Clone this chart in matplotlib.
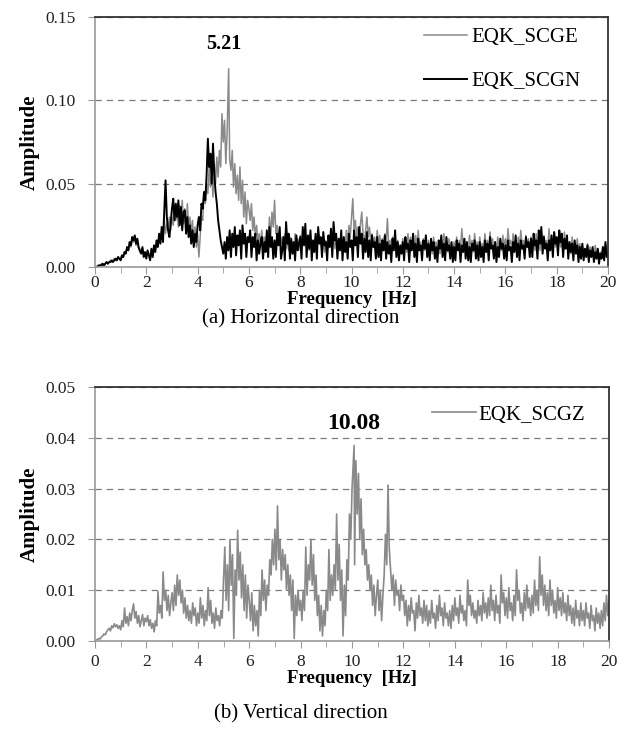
import numpy as np
import matplotlib.pyplot as plt
from matplotlib.ticker import MultipleLocator

plt.rcParams['font.family'] = ['Liberation Serif', 'DejaVu Serif']

# spectra sampled every 0.05 Hz from 0 to 20 Hz, one row per Hz
step = 0.05
freq = np.round(np.arange(0, 20 + step / 2, step), 2)

# EQK_SCGN amplitude, units of 1e-3
scgn = np.array([
    0, 0, 0, 1, 1, 1, 2, 1, 2, 3, 2, 3, 3, 4, 3, 4, 5, 4, 6, 5,
    4, 7, 6, 9, 8, 12, 10, 15, 13, 18, 16, 19, 14, 17, 12, 10, 8, 12, 6, 9,
    5, 10, 7, 4, 11, 6, 13, 9, 16, 12, 20, 14, 24, 15, 33, 52, 30, 22, 18, 26,
    35, 41, 28, 38, 30, 40, 25, 36, 22, 33, 34, 20, 30, 18, 25, 14, 22, 12, 20, 15,
    25, 30, 22, 38, 35, 45, 40, 55, 77, 60, 68, 50, 74, 56, 45, 38, 28, 22, 16, 12,
    8, 15, 5, 18, 10, 22, 6, 20, 12, 24, 7, 19, 13, 22, 5, 25, 14, 20, 6, 18,
    15, 22, 6, 18, 12, 20, 4, 16, 8, 14, 18, 5, 15, 9, 22, 6, 24, 12, 18, 5,
    16, 6, 20, 13, 24, 5, 10, 18, 4, 27, 14, 20, 5, 17, 8, 15, 4, 19, 10, 14,
    18, 5, 24, 13, 26, 6, 19, 11, 22, 4, 16, 9, 20, 5, 24, 14, 18, 6, 21, 13,
    15, 4, 19, 12, 23, 6, 27, 16, 20, 5, 17, 10, 22, 4, 18, 9, 15, 5, 20, 12,
    16, 4, 22, 13, 18, 6, 24, 14, 20, 5, 17, 9, 21, 6, 16, 4, 19, 12, 15, 5,
    18, 6, 14, 4, 16, 10, 19, 5, 15, 8, 13, 3, 17, 10, 22, 6, 15, 4, 13, 8,
    15, 4, 18, 11, 14, 3, 16, 10, 20, 6, 14, 3, 17, 10, 13, 4, 16, 11, 19, 6,
    14, 4, 17, 10, 15, 5, 12, 3, 16, 11, 19, 6, 14, 4, 18, 10, 13, 5, 15, 3,
    12, 4, 16, 10, 14, 3, 13, 9, 17, 5, 15, 4, 12, 3, 14, 10, 16, 5, 13, 4,
    15, 6, 12, 3, 16, 9, 14, 4, 18, 11, 13, 5, 15, 3, 12, 6, 17, 11, 14, 5,
    13, 4, 16, 10, 12, 3, 15, 9, 19, 6, 14, 4, 16, 11, 13, 5, 18, 12, 15, 6,
    17, 6, 20, 13, 16, 5, 22, 14, 24, 8, 18, 11, 14, 4, 16, 10, 19, 6, 21, 14,
    18, 7, 22, 15, 20, 6, 17, 11, 19, 5, 15, 9, 14, 4, 16, 8, 13, 3, 12, 5,
    14, 4, 11, 6, 13, 3, 10, 6, 12, 3, 9, 5, 11, 2, 8, 5, 12, 4, 15, 6,
    9,
]) * 1e-3

# EQK_SCGE amplitude, units of 1e-3
scge = np.array([
    0, 0, 1, 1, 1, 2, 1, 2, 2, 3, 2, 3, 4, 3, 4, 5, 4, 5, 6, 5,
    5, 7, 6, 8, 9, 11, 10, 14, 12, 16, 15, 18, 13, 15, 11, 9, 10, 11, 7, 8,
    6, 9, 8, 5, 10, 7, 12, 10, 15, 13, 18, 16, 22, 19, 28, 20, 26, 24, 30, 22,
    30, 25, 36, 28, 33, 24, 37, 29, 40, 26, 35, 22, 38, 24, 30, 20, 28, 16, 24, 12,
    20, 6, 18, 30, 28, 45, 38, 50, 44, 60, 48, 55, 42, 62, 50, 66, 54, 70, 60, 92,
    75, 88, 62, 80, 119, 65, 58, 70, 48, 62, 44, 55, 40, 60, 38, 52, 30, 45, 26, 40,
    35, 28, 38, 22, 30, 18, 25, 15, 20, 12, 22, 14, 18, 10, 20, 13, 30, 18, 33, 24,
    40, 20, 25, 15, 22, 14, 18, 12, 20, 11, 16, 10, 18, 12, 15, 9, 20, 13, 17, 10,
    19, 12, 22, 14, 18, 11, 16, 10, 20, 13, 15, 9, 18, 11, 22, 14, 17, 10, 15, 9,
    16, 10, 18, 12, 21, 13, 17, 11, 20, 12, 16, 10, 19, 12, 15, 11, 22, 14, 25, 18,
    30, 41, 22, 28, 18, 24, 15, 26, 33, 20, 14, 22, 30, 18, 24, 15, 20, 12, 18, 10,
    22, 14, 19, 12, 17, 10, 20, 15, 29, 12, 16, 9, 18, 11, 14, 8, 16, 10, 13, 8,
    17, 10, 15, 9, 20, 12, 18, 11, 16, 9, 19, 12, 22, 13, 15, 9, 17, 10, 14, 8,
    16, 9, 14, 8, 18, 11, 15, 9, 13, 8, 17, 10, 20, 12, 15, 9, 17, 10, 14, 8,
    15, 9, 18, 11, 16, 10, 23, 13, 17, 10, 14, 8, 19, 11, 16, 9, 20, 12, 15, 9,
    18, 11, 14, 9, 20, 12, 16, 10, 21, 13, 17, 10, 15, 9, 18, 11, 16, 10, 19, 12,
    17, 10, 23, 14, 16, 10, 20, 12, 15, 9, 18, 11, 22, 13, 16, 10, 19, 12, 17, 10,
    18, 11, 16, 10, 20, 12, 17, 10, 22, 14, 19, 12, 16, 10, 23, 13, 17, 10, 20, 12,
    16, 10, 19, 12, 15, 9, 21, 13, 17, 10, 14, 8, 18, 11, 15, 9, 17, 10, 14, 8,
    13, 8, 11, 6, 14, 9, 12, 7, 10, 6, 13, 8, 11, 7, 9, 5, 12, 8, 14, 9,
    8,
]) * 1e-3

# EQK_SCGZ amplitude, units of 1e-4
scgz = np.array([
    0, 2, 3, 5, 4, 8, 10, 14, 12, 18, 22, 25, 20, 30, 26, 34, 28, 32, 25, 30,
    22, 40, 28, 65, 35, 48, 30, 55, 40, 60, 73, 45, 58, 35, 50, 28, 40, 52, 30, 45,
    38, 50, 30, 42, 25, 35, 18, 40, 30, 97, 55, 70, 45, 136, 80, 100, 60, 90, 50, 75,
    95, 60, 110, 70, 130, 90, 120, 75, 100, 55, 85, 45, 70, 40, 60, 35, 75, 50, 65, 30,
    55, 35, 85, 45, 70, 30, 60, 40, 105, 50, 80, 35, 55, 25, 65, 40, 50, 30, 60, 45,
    120, 185, 80, 150, 60, 200, 110, 170, 5, 140, 90, 218, 120, 175, 85, 150, 60, 130, 45, 110,
    80, 40, 95, 20, 70, 30, 60, 10, 100, 50, 140, 80, 120, 60, 110, 90, 160, 130, 200, 150,
    220, 140, 266, 160, 200, 120, 180, 140, 170, 100, 150, 90, 130, 60, 120, 5, 90, 50, 100, 60,
    80, 40, 100, 60, 185, 90, 150, 120, 200, 110, 170, 80, 130, 50, 90, 20, 70, 10, 60, 30,
    100, 60, 180, 80, 130, 90, 150, 100, 250, 120, 190, 80, 140, 10, 110, 50, 160, 120, 250, 200,
    300, 385, 150, 355, 250, 330, 200, 280, 170, 220, 150, 180, 120, 150, 100, 130, 70, 110, 50, 90,
    120, 60, 100, 40, 90, 130, 210, 150, 307, 180, 140, 100, 130, 70, 120, 90, 100, 60, 110, 80,
    90, 50, 80, 30, 70, 40, 85, 55, 60, 20, 75, 45, 90, 50, 65, 35, 80, 40, 70, 30,
    60, 35, 80, 45, 55, 25, 70, 40, 90, 50, 65, 30, 75, 45, 55, 30, 60, 25, 70, 40,
    85, 50, 65, 35, 90, 55, 70, 40, 60, 30, 120, 70, 90, 50, 75, 45, 60, 35, 80, 50,
    70, 40, 95, 55, 75, 45, 85, 50, 110, 60, 80, 40, 90, 55, 70, 35, 130, 75, 95, 50,
    85, 45, 105, 60, 75, 40, 90, 50, 140, 80, 100, 55, 75, 40, 95, 60, 110, 65, 85, 50,
    90, 55, 120, 70, 100, 60, 166, 90, 130, 70, 110, 60, 95, 50, 120, 70, 100, 55, 80, 45,
    105, 60, 85, 50, 95, 55, 75, 40, 90, 50, 70, 35, 65, 30, 80, 45, 60, 30, 75, 40,
    60, 30, 75, 45, 55, 25, 70, 40, 50, 20, 65, 35, 55, 25, 60, 30, 75, 40, 90, 50,
    80,
]) * 1e-4

peak_h = 5.21    # dominant horizontal frequency [Hz]
peak_v = 10.08   # dominant vertical frequency [Hz]

freq_h = freq.copy()
freq_h[np.argmax(scge)] = peak_h
freq_v = freq.copy()
freq_v[np.argmax(scgz)] = peak_v

gray = '#8a8a8a'
spine_light = '#9a9a9a'
spine_dark = '#333333'


def style_axes(ax, ymax, ystep, xpad):
    ax.set_xlim(0, 20)
    ax.set_ylim(0, ymax)
    ax.xaxis.set_major_locator(MultipleLocator(2))
    ax.xaxis.set_minor_locator(MultipleLocator(1))
    ax.yaxis.set_major_locator(MultipleLocator(ystep))
    ax.yaxis.set_major_formatter(lambda v, p: f'{v:.2f}')
    ax.tick_params(axis='both', which='both', direction='out', color=spine_light,
                   labelsize=12.5, labelcolor='#222222')
    ax.tick_params(axis='x', which='major', length=5, pad=xpad)
    ax.tick_params(axis='x', which='minor', length=4)
    ax.tick_params(axis='y', length=5, pad=9)
    ax.grid(axis='y', color='#7a7a7a', linestyle=(0, (5, 4)), linewidth=0.9)
    ax.set_axisbelow(True)
    for side in ('left', 'bottom'):
        ax.spines[side].set_color(spine_light)
        ax.spines[side].set_linewidth(1.2)
    for side in ('top', 'right'):
        ax.spines[side].set_color(spine_dark)
        ax.spines[side].set_linewidth(1.3)
    ax.set_xlabel('Frequency  [Hz]', fontsize=13.5, fontweight='bold', labelpad=0)
    ax.set_ylabel('Amplitude', fontsize=15, fontweight='bold', labelpad=4)


fig = plt.figure(figsize=(6.3, 7.29), dpi=100)

# (a) horizontal components
ax1 = fig.add_axes([0.1508, 0.6337, 0.8143, 0.343])
ax1.plot(freq_h, scge, color=gray, linewidth=1.1, label='EQK_SCGE')
ax1.plot(freq, scgn, color='black', linewidth=1.4, label='EQK_SCGN')
style_axes(ax1, 0.15, 0.05, 1)
ax1.annotate(f'{peak_h:.2f}', xy=(peak_h, scge.max()), xytext=(peak_h - 0.2, 0.128),
             ha='center', va='bottom', fontsize=14.5, fontweight='bold')
ax1.legend(loc='upper right', frameon=False, fontsize=15, handlelength=2.1,
           handletextpad=0.2, labelspacing=1.15, borderaxespad=0.0,
           bbox_to_anchor=(0.963, 0.99))
fig.text(0.478, 0.562, '(a) Horizontal direction', ha='center', va='center', fontsize=15)

# (b) vertical component
ax2 = fig.add_axes([0.1508, 0.1207, 0.816, 0.3484])
ax2.plot(freq_v, scgz, color=gray, linewidth=1.2, label='EQK_SCGZ')
style_axes(ax2, 0.05, 0.01, 4)
ax2.annotate(f'{peak_v:.2f}', xy=(peak_v, scgz.max()), xytext=(peak_v, 0.0407),
             ha='center', va='bottom', fontsize=17, fontweight='bold')
ax2.legend(loc='upper right', frameon=False, fontsize=15, handlelength=2.1,
           handletextpad=0.1, borderaxespad=0.0, bbox_to_anchor=(0.969, 0.962))
fig.text(0.478, 0.021, '(b) Vertical direction', ha='center', va='center', fontsize=15)

fig.savefig('out.png', dpi=100)
